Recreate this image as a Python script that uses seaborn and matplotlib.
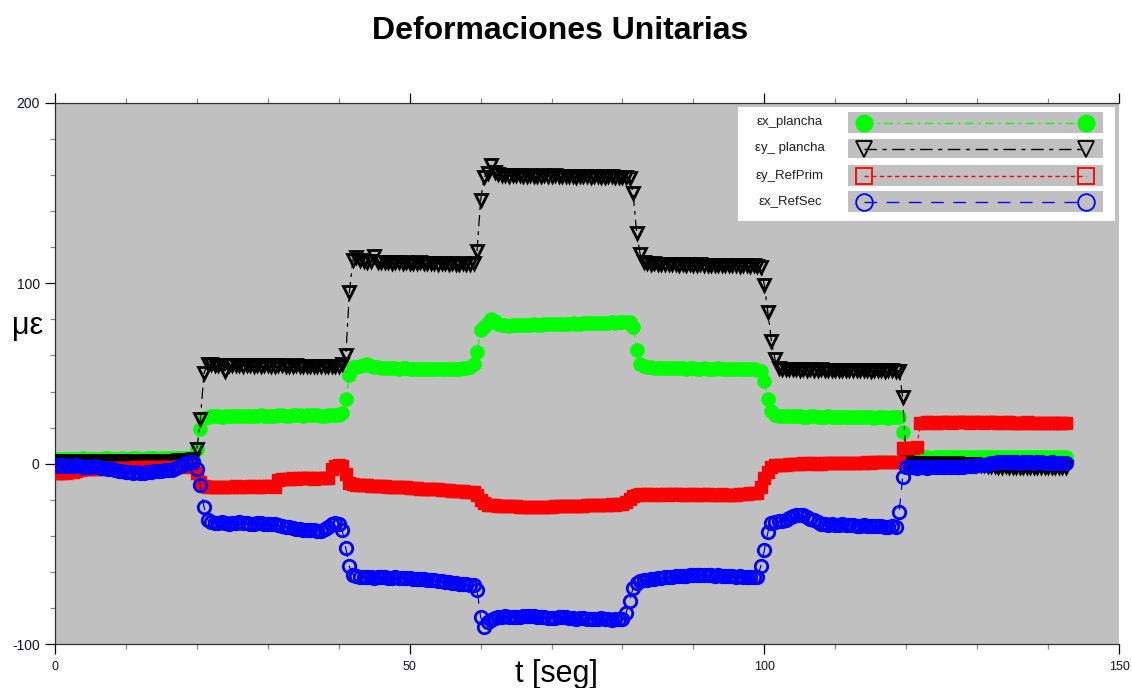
import numpy as np
import matplotlib
matplotlib.use("Agg")
import matplotlib.pyplot as plt
from matplotlib.lines import Line2D
from matplotlib.patches import Rectangle
from matplotlib.ticker import MultipleLocator, FixedLocator
import seaborn as sns

# Strain readings, one sample every SAMPLE_STEP seconds (microstrain)
SAMPLE_STEP = 0.5

ex_plancha = [
    2.5, 2.6, 2.4, 2.7, 2.8, 2.6, 2.5, 2.7, 2.9, 2.8, 2.6, 2.5, 2.7, 2.8, 3.0, 2.9, 2.7, 2.6, 2.8, 2.9,
    2.8, 2.7, 2.9, 3.0, 2.8, 2.7, 2.9, 3.1, 3.0, 2.8, 2.9, 3.0, 3.2, 3.1, 2.9, 3.0, 3.2, 3.1, 3.3, 3.4,
    8.0, 19.0, 25.5, 26.0, 26.2, 26.5, 26.3, 26.1, 26.4, 26.6, 26.5, 26.3, 26.2, 26.4, 26.7, 26.5, 26.4, 26.6, 26.8, 26.7,
    26.6, 26.5, 26.7, 26.9, 26.8, 26.6, 26.7, 26.9, 27.0, 26.8, 26.7, 26.9, 27.1, 26.9, 26.8, 26.7, 26.6, 26.8, 26.9, 27.0,
    27.2, 28.0, 36.0, 49.0, 53.5, 53.8, 54.2, 54.5, 55.0, 54.4, 53.8, 53.5, 53.3, 53.1, 53.0, 52.9, 52.8, 52.7, 52.9, 52.8,
    52.7, 52.6, 52.5, 52.7, 52.6, 52.4, 52.5, 52.6, 52.4, 52.3, 52.5, 52.6, 52.4, 52.5, 52.7, 52.9, 53.2, 53.8, 55.0, 62.0,
    74.0, 76.0, 78.0, 80.0, 79.0, 77.5, 77.0, 76.8, 76.6, 76.8, 77.0, 76.9, 76.7, 76.8, 77.0, 77.2, 77.1, 77.0, 77.3, 77.4,
    77.3, 77.5, 77.6, 77.4, 77.5, 77.7, 77.8, 77.6, 77.7, 77.9, 78.0, 77.8, 77.9, 78.1, 78.0, 78.2, 78.1, 78.3, 78.2, 78.4,
    78.3, 78.5, 78.4, 76.0, 63.0, 55.5, 54.0, 53.6, 53.4, 53.2, 53.1, 53.0, 53.2, 53.0, 52.9, 52.8, 53.0, 52.9, 52.7, 52.8,
    52.9, 52.7, 52.6, 52.8, 52.7, 52.5, 52.6, 52.8, 52.7, 52.5, 52.6, 52.4, 52.5, 52.7, 52.6, 52.4, 52.5, 52.3, 52.0, 51.5,
    46.0, 36.0, 29.0, 27.0, 26.5, 26.3, 26.2, 26.4, 26.5, 26.3, 26.2, 26.0, 26.1, 26.3, 26.2, 26.0, 25.9, 26.1, 26.2, 26.0,
    25.9, 25.8, 26.0, 26.1, 25.9, 25.8, 25.7, 25.9, 26.0, 25.8, 25.7, 25.6, 25.8, 25.9, 25.7, 25.6, 25.8, 25.9, 26.0, 17.5,
    4.5, 3.8, 3.6, 3.5, 3.6, 3.7, 3.5, 3.4, 3.6, 3.7, 3.5, 3.6, 3.8, 3.7, 3.5, 3.6, 3.7, 3.9, 3.8, 3.6,
    3.7, 3.8, 3.6, 3.7, 3.9, 3.8, 3.6, 3.5, 3.7, 3.8, 3.6, 3.7, 3.9, 3.8, 3.6, 3.7, 3.8, 3.6, 3.5, 3.7,
    3.8, 3.6, 3.5, 3.7, 3.6, 3.5,
]

ey_plancha = [
    1.5, 1.6, 1.4, 1.5, 1.7, 1.6, 1.5, 1.4, 1.6, 1.7, 1.5, 1.6, 1.4, 1.5, 1.6, 1.7, 1.5, 1.4, 1.6, 1.5,
    1.6, 1.5, 1.7, 1.6, 1.5, 1.4, 1.6, 1.5, 1.7, 1.6, 1.5, 1.6, 1.7, 1.5, 1.6, 1.8, 1.7, 1.6, 1.8, 2.5,
    8.0, 25.0, 50.0, 55.5, 55.0, 54.8, 54.6, 54.7, 51.5, 54.6, 54.5, 54.7, 54.6, 54.4, 54.5, 54.6, 54.3, 54.5, 54.4, 54.6,
    54.5, 54.3, 54.4, 54.6, 54.5, 54.3, 54.2, 54.4, 54.5, 54.3, 54.2, 54.4, 54.3, 54.1, 54.2, 54.4, 54.3, 54.1, 54.0, 54.2,
    54.2, 55.0, 60.0, 95.0, 113.0, 114.5, 112.8, 112.4, 112.0, 112.3, 115.0, 112.1, 111.8, 112.0, 111.7, 111.5, 111.8, 111.6, 111.4, 111.6,
    111.5, 111.3, 111.4, 111.6, 111.2, 111.0, 111.3, 111.1, 110.9, 111.2, 111.0, 110.8, 111.1, 110.9, 110.8, 111.0, 110.7, 110.9, 111.0, 118.0,
    146.0, 159.0, 161.0, 165.5, 162.0, 160.5, 160.0, 159.8, 159.6, 159.9, 160.1, 159.8, 159.5, 159.7, 159.9, 159.6, 159.4, 159.7, 159.8, 159.5,
    159.6, 159.8, 159.5, 159.3, 159.6, 159.7, 159.4, 159.2, 159.5, 159.6, 159.3, 159.1, 159.4, 159.5, 159.2, 159.0, 159.3, 159.4, 159.1, 159.0,
    159.2, 159.0, 158.5, 150.0, 128.0, 116.0, 112.0, 111.2, 110.8, 111.0, 110.7, 110.9, 110.6, 110.8, 110.5, 110.7, 110.4, 110.6, 110.3, 110.5,
    110.4, 110.2, 110.5, 110.3, 110.1, 110.4, 110.2, 110.0, 110.3, 110.1, 109.9, 110.2, 110.0, 109.8, 110.1, 109.9, 109.7, 110.0, 109.8, 109.0,
    99.0, 84.0, 68.0, 58.0, 53.2, 52.6, 52.4, 52.5, 52.3, 52.4, 52.2, 52.3, 52.1, 52.4, 52.2, 52.0, 52.3, 52.1, 51.9, 52.2,
    52.0, 52.2, 51.9, 52.1, 51.8, 52.0, 51.9, 51.7, 52.0, 51.8, 51.6, 51.9, 51.7, 51.8, 51.6, 51.9, 51.7, 51.5, 51.4, 37.0,
    1.0, 0.5, 0.3, 0.2, 0.0, -0.2, 0.1, 0.3, 0.0, -0.1, 0.2, 0.0, -0.3, -0.1, 0.1, -0.2, -0.4, -0.1, 0.0, -0.3,
    -0.5, -0.8, -1.0, -1.2, -1.5, -1.3, -1.6, -1.8, -1.5, -1.7, -1.9, -1.6, -1.8, -2.0, -1.7, -1.9, -2.1, -1.8, -1.6, -1.9,
    -1.7, -1.9, -2.0, -1.8, -1.6, -1.7,
]

ey_refprim = [
    -5.0, -5.2, -4.9, -5.1, -4.8, -4.6, -4.0, -3.5, -3.2, -3.0, -2.8, -2.9, -2.7, -2.6, -2.8, -2.5, -2.6, -2.4, -2.5, -2.3,
    -2.4, -2.2, -2.3, -2.1, -2.2, -2.0, -2.1, -1.9, -2.0, -1.8, -1.9, -1.7, -1.8, -1.6, -1.7, -1.5, -1.6, -1.4, -1.5, -2.0,
    -5.0, -10.0, -12.5, -12.8, -13.0, -12.9, -12.7, -12.8, -13.0, -12.9, -12.8, -12.6, -12.7, -12.9, -12.8, -12.6, -12.5, -12.7, -12.8, -12.6,
    -12.6, -12.5, -12.7, -9.0, -8.5, -8.3, -8.4, -8.2, -8.3, -8.1, -8.2, -8.0, -8.1, -8.3, -8.2, -8.0, -7.9, -8.1, -3.0, -1.5,
    -1.0, -1.5, -6.0, -10.5, -11.5, -11.8, -12.0, -11.9, -12.1, -12.3, -12.2, -12.4, -12.6, -12.5, -12.7, -12.9, -12.8, -13.0, -13.2, -13.1,
    -13.3, -13.5, -13.6, -13.8, -14.0, -13.9, -14.1, -14.3, -14.2, -14.4, -14.6, -14.8, -15.0, -15.1, -15.3, -15.4, -15.5, -15.6, -15.8, -17.5,
    -20.0, -22.0, -22.8, -23.0, -23.1, -23.2, -23.3, -23.4, -23.5, -23.6, -23.7, -23.8, -23.8, -23.9, -23.8, -23.9, -24.0, -23.9, -23.8, -23.9,
    -23.8, -23.7, -23.6, -23.7, -23.5, -23.4, -23.5, -23.3, -23.2, -23.3, -23.1, -23.0, -23.1, -22.9, -22.8, -22.9, -22.7, -22.6, -22.7, -22.5,
    -22.4, -21.5, -19.5, -18.0, -17.3, -17.0, -17.1, -16.9, -17.0, -17.2, -17.1, -16.9, -17.0, -17.1, -16.8, -16.9, -17.0, -17.2, -17.1, -16.9,
    -17.0, -17.2, -17.1, -16.9, -17.0, -17.2, -17.3, -17.1, -17.0, -17.2, -17.3, -17.1, -17.2, -17.0, -16.8, -16.6, -16.4, -16.3, -16.0, -13.0,
    -8.0, -4.5, -2.0, -1.0, -0.8, -0.6, -0.5, -0.3, -0.2, 0.0, -0.1, 0.1, 0.0, 0.2, 0.1, -0.1, 0.0, 0.2, 0.3, 0.1,
    0.2, 0.3, 0.2, 0.4, 0.5, 0.3, 0.4, 0.6, 0.5, 0.7, 0.6, 0.8, 0.7, 0.9, 0.8, 1.0, 0.9, 1.1, 1.0, 8.5,
    8.8, 8.6, 8.7, 9.0, 22.5, 22.8, 23.0, 22.9, 22.7, 22.8, 23.0, 23.1, 22.9, 22.8, 23.0, 23.2, 23.1, 22.9, 22.8, 23.0,
    23.1, 22.9, 22.8, 23.0, 23.1, 22.9, 22.7, 22.8, 23.0, 22.9, 22.7, 22.8, 22.6, 22.8, 22.9, 22.7, 22.6, 22.8, 22.7, 22.5,
    22.6, 22.7, 22.5, 22.6, 22.4, 22.5,
]

ex_refsec = [
    -1.0, -1.2, -0.9, -1.3, -1.5, -1.2, -1.0, -1.4, -1.8, -2.0, -1.7, -1.5, -1.9, -2.2, -2.5, -2.8, -3.2, -3.5, -4.0, -4.3,
    -4.6, -4.8, -5.0, -4.7, -4.9, -5.1, -4.8, -4.6, -4.2, -4.0, -3.8, -3.6, -3.5, -3.3, -2.5, -1.5, -0.5, 0.5, 1.2, 1.0,
    -3.0, -12.0, -24.0, -31.0, -32.5, -33.0, -32.8, -32.6, -32.9, -33.2, -33.0, -32.7, -32.5, -32.8, -33.1, -33.4, -33.2, -32.9, -33.0, -33.3,
    -33.5, -33.2, -33.6, -34.0, -34.5, -35.0, -35.3, -35.6, -36.0, -36.4, -36.6, -36.8, -37.0, -36.9, -37.1, -37.2, -36.5, -35.0, -33.5, -33.0,
    -33.5, -37.0, -47.0, -57.0, -61.5, -62.5, -63.0, -62.8, -62.6, -62.9, -63.2, -63.0, -62.8, -63.1, -63.4, -63.2, -63.0, -63.3, -63.5, -63.4,
    -63.6, -63.8, -64.0, -63.9, -64.2, -64.4, -64.3, -64.6, -64.9, -65.2, -65.5, -65.8, -66.0, -66.3, -66.5, -66.8, -67.0, -67.2, -67.5, -70.0,
    -85.0, -90.5, -88.0, -86.5, -85.5, -85.0, -84.8, -84.6, -84.8, -85.0, -85.2, -85.0, -84.7, -84.5, -84.3, -84.5, -84.8, -85.0, -85.3, -85.5,
    -85.6, -85.4, -85.2, -85.0, -85.3, -85.6, -85.8, -86.0, -85.8, -85.6, -85.9, -86.1, -86.3, -86.0, -85.8, -86.1, -86.3, -86.5, -86.2, -86.0,
    -86.0, -83.0, -76.0, -69.0, -66.0, -65.0, -64.6, -64.3, -64.0, -63.8, -63.6, -63.3, -63.1, -62.9, -62.7, -62.5, -62.3, -62.4, -62.2, -62.0,
    -61.8, -61.6, -61.5, -61.7, -61.9, -62.0, -62.1, -61.9, -62.2, -62.4, -62.3, -62.5, -62.6, -62.4, -62.7, -62.8, -62.6, -62.9, -62.7, -57.0,
    -48.0, -38.0, -33.0, -32.5, -32.0, -31.6, -31.0, -30.0, -29.0, -28.6, -28.4, -28.7, -29.5, -30.5, -31.5, -32.5, -33.2, -33.6, -33.8, -33.6,
    -33.8, -34.0, -33.7, -33.9, -34.2, -34.0, -34.3, -34.5, -34.2, -34.4, -34.6, -34.5, -34.8, -34.6, -34.9, -35.0, -34.8, -35.1, -27.0, -7.5,
    -2.0, -1.8, -2.1, -2.3, -2.0, -1.9, -2.2, -2.1, -1.8, -1.7, -1.9, -2.0, -1.8, -1.6, -1.7, -1.9, -1.6, -1.4, -1.5, -1.3,
    -1.0, -0.8, -0.5, -0.2, 0.2, 0.5, 0.7, 0.8, 1.0, 0.9, 1.1, 0.8, 0.6, 0.9, 1.0, 0.7, 0.5, 0.8, 0.9, 0.6,
    0.4, 0.7, 0.5, 0.3, 0.6, 0.2,
]

series_labels = ["εx_plancha", "εy_ plancha", "εy_RefPrim", "εx_RefSec"]
x_major_ticks = [0, 50, 100, 150]
y_major_ticks = [-100, 0, 100, 200]

t = np.arange(len(ex_plancha)) * SAMPLE_STEP
series_values = [ex_plancha, ey_plancha, ey_refprim, ex_refsec]

# Drawing styles per series
styles = [
    dict(color="#00FF00", marker="o", markerfacecolor="#00FF00", markeredgecolor="#00FF00",
         markersize=9.5, markeredgewidth=1.0, linestyle=(0, (6, 3.5, 1.5, 3.5))),
    dict(color="black", marker="v", markerfacecolor="none", markeredgecolor="black",
         markersize=8.5, markeredgewidth=2.0, linestyle=(0, (9, 4, 3, 4))),
    dict(color="#FF0000", marker="s", markerfacecolor="#FF0000", markeredgecolor="#FF0000",
         markersize=8.5, markeredgewidth=1.0, linestyle=(0, (3, 2.5))),
    dict(color="#0000FF", marker="o", markerfacecolor="none", markeredgecolor="#0000FF",
         markersize=9.0, markeredgewidth=2.0, linestyle=(0, (9, 7))),
]
legend_marker = [
    dict(marker="o", markerfacecolor="#00FF00", markeredgecolor="#00FF00", markersize=12),
    dict(marker="v", markerfacecolor="none", markeredgecolor="black", markersize=12, markeredgewidth=1.3),
    dict(marker="s", markerfacecolor="none", markeredgecolor="#FF0000", markersize=12, markeredgewidth=1.3),
    dict(marker="o", markerfacecolor="none", markeredgecolor="#0000FF", markersize=12, markeredgewidth=1.3),
]

sns.set_style("ticks")
plt.rcParams["font.family"] = ["Liberation Sans", "DejaVu Sans"]
plt.rcParams["axes.unicode_minus"] = False
plt.rcParams["text.color"] = "black"

W, H = 1132, 688
fig = plt.figure(figsize=(W / 100, H / 100), dpi=100, facecolor="white")
ax = fig.add_axes([55 / W, 1 - 644 / H, 1064 / W, 541 / H])
ax.set_facecolor("#C0C0C0")

for i, (vals, st) in enumerate(zip(series_values, styles)):
    sns.lineplot(x=t, y=vals, ax=ax, estimator=None, sort=False, legend=False,
                 linewidth=0.9, zorder=2 + i, **st)

ax.set_xlim(0, 150)
ax.set_ylim(-100, 200)
ax.set_xlabel("")
ax.set_ylabel("")
ax.xaxis.set_major_locator(FixedLocator(x_major_ticks))
ax.xaxis.set_minor_locator(MultipleLocator(10))
ax.yaxis.set_major_locator(FixedLocator(y_major_ticks))
ax.yaxis.set_minor_locator(MultipleLocator(20))

tick_text = "#15152a"
ax.tick_params(which="major", direction="out", length=7.5, width=0.9, color="black",
               labelcolor=tick_text)
ax.tick_params(which="minor", direction="out", length=3.8, width=0.9, color="#8a8a8a")
ax.tick_params(axis="y", which="major", pad=3.5, labelsize=10)
ax.tick_params(axis="x", which="major", pad=5, labelsize=9)
ax.tick_params(axis="x", which="both", top=True, labeltop=False)
ax.tick_params(axis="y", which="both", right=False)

for side in ("left", "bottom", "top"):
    ax.spines[side].set_color("#303030")
    ax.spines[side].set_linewidth(0.9)
ax.spines["right"].set_visible(False)

# Titles and axis captions
fig.text(560 / W, 1 - 39 / H, "Deformaciones Unitarias", ha="center", va="baseline",
         fontsize=23, fontweight="bold", color="black")
fig.text(28 / W, 1 - 334 / H, "με", ha="center", va="baseline", fontsize=22, color="black")
fig.text(556 / W, 1 - 682 / H, "t [seg]", ha="center", va="baseline", fontsize=22, color="black")


# Legend panel: white box, one grey swatch per series with symbols at both ends
def fx(px):
    return px / W


def fy(py):
    return 1 - py / H


fig.add_artist(Rectangle((fx(738), fy(221)), (1115 - 738) / W, (221 - 107) / H,
                         transform=fig.transFigure, facecolor="white", edgecolor="none", zorder=10))
row_bounds = [(112, 133), (139, 158), (165, 186), (191, 212)]
for label, st, lm, (top, bot) in zip(series_labels, styles, legend_marker, row_bounds):
    fig.add_artist(Rectangle((fx(848), fy(bot)), (1103 - 848) / W, (bot - top) / H,
                             transform=fig.transFigure, facecolor="#C0C0C0",
                             edgecolor="none", zorder=11))
    yc = (top + bot) / 2
    fig.add_artist(Line2D([fx(864), fx(1086)], [fy(yc), fy(yc)], transform=fig.transFigure,
                          color=st["color"], linewidth=1.0, linestyle=st["linestyle"],
                          zorder=12, **lm))
    fig.text(fx(790), fy(yc), label, ha="center", va="center", fontsize=9.5,
             color="#202020", zorder=13)

fig.savefig("out.png", dpi=100, facecolor="white")
